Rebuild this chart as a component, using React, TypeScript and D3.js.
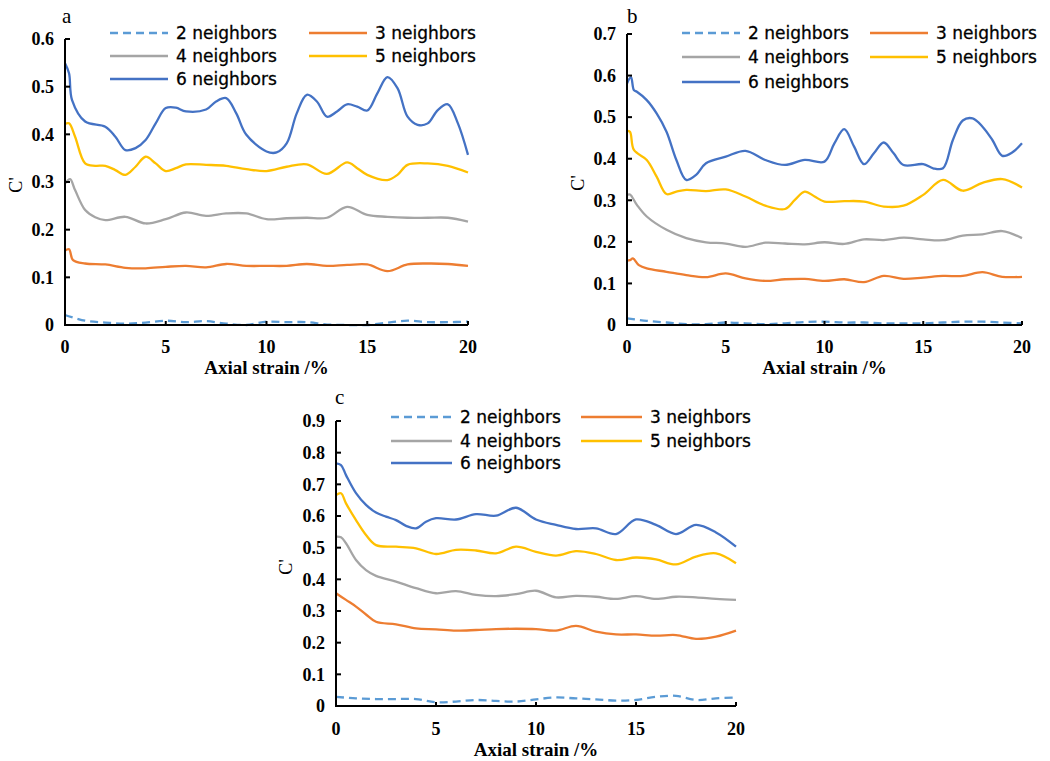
import React from "react";
import * as d3 from "d3";

type Pt = [number, number];

// Series shared by all three panels
const SERIES_NAMES = ["2 neighbors", "3 neighbors", "4 neighbors", "5 neighbors", "6 neighbors"];
const SERIES_COLORS = ["#5B9BD5", "#ED7D31", "#A5A5A5", "#FFC000", "#4472C4"];

const X_TICKS = [0, 5, 10, 15, 20];
const X_TITLE = "Axial strain /%";
const Y_TITLE = "C'";

const A_Y_TICKS = [0, 0.1, 0.2, 0.3, 0.4, 0.5, 0.6];
const B_Y_TICKS = [0, 0.1, 0.2, 0.3, 0.4, 0.5, 0.6, 0.7];
const C_Y_TICKS = [0, 0.1, 0.2, 0.3, 0.4, 0.5, 0.6, 0.7, 0.8, 0.9];

// Panel a: [axial strain %, C']
const a2: Pt[] = [[0, 0.021], [1, 0.009], [2, 0.005], [3, 0.003], [4, 0.005], [5, 0.009], [6, 0.006], [7, 0.008], [8, 0.003], [9, 0.0], [10, 0.007], [11, 0.006], [12, 0.006], [13, 0.001], [14, 0.0], [15, 0.0], [16, 0.005], [17, 0.009], [18, 0.006], [19, 0.006], [20, 0.007]];
const a3: Pt[] = [[0, 0.156], [0.2, 0.159], [0.4, 0.136], [1, 0.129], [2, 0.127], [3, 0.12], [4, 0.119], [5, 0.122], [6, 0.124], [7, 0.121], [8, 0.128], [9, 0.124], [10, 0.124], [11, 0.124], [12, 0.128], [13, 0.124], [14, 0.126], [15, 0.127], [16, 0.113], [17, 0.127], [18, 0.129], [19, 0.128], [20, 0.124]];
const a4: Pt[] = [[0, 0.297], [0.25, 0.306], [0.5, 0.283], [1, 0.241], [1.5, 0.226], [2, 0.22], [3, 0.227], [4, 0.213], [5, 0.222], [6, 0.236], [7, 0.229], [8, 0.234], [9, 0.234], [10, 0.222], [11, 0.224], [12, 0.225], [13, 0.225], [14, 0.248], [15, 0.231], [16, 0.227], [17, 0.225], [18, 0.225], [19, 0.225], [20, 0.217]];
const a5: Pt[] = [[0, 0.422], [0.2, 0.423], [0.5, 0.395], [1, 0.339], [1.5, 0.334], [2, 0.334], [2.5, 0.325], [3, 0.315], [3.5, 0.332], [4, 0.353], [4.5, 0.339], [5, 0.323], [5.5, 0.329], [6, 0.337], [7, 0.336], [8, 0.334], [9, 0.327], [10, 0.323], [11, 0.332], [12, 0.337], [13, 0.317], [14, 0.341], [14.5, 0.329], [15, 0.315], [16, 0.304], [16.5, 0.315], [17, 0.336], [18, 0.339], [19, 0.334], [20, 0.32]];
const a6: Pt[] = [[0, 0.549], [0.2, 0.528], [0.35, 0.472], [1, 0.427], [2, 0.416], [2.5, 0.395], [3, 0.367], [3.5, 0.371], [4, 0.388], [4.5, 0.423], [5, 0.455], [5.5, 0.456], [6, 0.448], [7, 0.452], [7.5, 0.469], [8, 0.476], [8.5, 0.444], [9, 0.399], [10, 0.364], [10.5, 0.362], [11, 0.381], [11.5, 0.444], [12, 0.483], [12.5, 0.469], [13, 0.437], [13.5, 0.448], [14, 0.463], [14.5, 0.458], [15, 0.45], [15.5, 0.486], [16, 0.52], [16.5, 0.497], [17, 0.437], [17.5, 0.42], [18, 0.423], [18.5, 0.451], [19, 0.463], [19.5, 0.423], [20, 0.357]];

// Panel b
const b2: Pt[] = [[0, 0.016], [1, 0.01], [2, 0.006], [3, 0.002], [4, 0.002], [5, 0.006], [6, 0.004], [7, 0.002], [8, 0.004], [9, 0.007], [10, 0.008], [11, 0.006], [12, 0.006], [13, 0.004], [14, 0.004], [15, 0.004], [16, 0.006], [17, 0.008], [18, 0.008], [19, 0.006], [20, 0.004]];
const b3: Pt[] = [[0, 0.155], [0.15, 0.156], [0.3, 0.16], [0.6, 0.144], [1, 0.136], [2, 0.128], [3, 0.12], [4, 0.115], [5, 0.124], [6, 0.112], [7, 0.106], [8, 0.11], [9, 0.111], [10, 0.106], [11, 0.11], [12, 0.103], [13, 0.118], [14, 0.111], [15, 0.114], [16, 0.118], [17, 0.118], [18, 0.127], [19, 0.116], [20, 0.116]];
const b4: Pt[] = [[0, 0.313], [0.15, 0.314], [0.5, 0.289], [1, 0.261], [2, 0.229], [3, 0.209], [4, 0.199], [5, 0.196], [6, 0.188], [7, 0.198], [8, 0.196], [9, 0.194], [10, 0.199], [11, 0.195], [12, 0.206], [13, 0.204], [14, 0.21], [15, 0.206], [16, 0.204], [17, 0.215], [18, 0.218], [19, 0.226], [20, 0.209]];
const b5: Pt[] = [[0, 0.467], [0.15, 0.465], [0.35, 0.421], [1, 0.397], [1.5, 0.357], [2, 0.315], [2.5, 0.321], [3, 0.325], [4, 0.322], [5, 0.326], [6, 0.309], [7, 0.287], [8, 0.279], [8.5, 0.301], [9, 0.321], [9.5, 0.309], [10, 0.297], [11, 0.298], [12, 0.297], [13, 0.285], [14, 0.287], [15, 0.313], [16, 0.349], [17, 0.323], [18, 0.342], [19, 0.351], [20, 0.331]];
const b6: Pt[] = [[0, 0.581], [0.2, 0.596], [0.35, 0.565], [0.5, 0.561], [1, 0.541], [1.5, 0.509], [2, 0.465], [2.5, 0.397], [3, 0.349], [3.5, 0.361], [4, 0.389], [5, 0.405], [6, 0.419], [7, 0.397], [8, 0.385], [9, 0.397], [10, 0.393], [10.5, 0.437], [11, 0.471], [11.5, 0.429], [12, 0.387], [12.5, 0.413], [13, 0.439], [13.5, 0.413], [14, 0.385], [15, 0.387], [15.5, 0.377], [16, 0.377], [16.5, 0.445], [17, 0.492], [17.5, 0.497], [18, 0.477], [18.5, 0.445], [19, 0.407], [19.5, 0.415], [20, 0.437]];

// Panel c
const c2: Pt[] = [[0, 0.029], [1, 0.024], [2, 0.022], [3, 0.022], [4, 0.022], [5, 0.012], [6, 0.014], [7, 0.019], [8, 0.016], [9, 0.014], [10, 0.021], [11, 0.027], [12, 0.024], [13, 0.021], [14, 0.017], [15, 0.019], [16, 0.029], [17, 0.032], [18, 0.019], [19, 0.024], [20, 0.027]];
const c3: Pt[] = [[0, 0.356], [0.5, 0.335], [1, 0.314], [1.5, 0.289], [2, 0.266], [3, 0.258], [4, 0.245], [5, 0.242], [6, 0.238], [7, 0.24], [8, 0.243], [9, 0.244], [10, 0.243], [11, 0.238], [12, 0.253], [13, 0.235], [14, 0.226], [15, 0.226], [16, 0.222], [17, 0.224], [18, 0.212], [19, 0.219], [20, 0.238]];
const c4: Pt[] = [[0, 0.535], [0.25, 0.533], [0.5, 0.514], [1, 0.461], [1.5, 0.429], [2, 0.411], [3, 0.393], [4, 0.372], [5, 0.356], [6, 0.363], [7, 0.351], [8, 0.347], [9, 0.353], [10, 0.364], [11, 0.343], [12, 0.348], [13, 0.345], [14, 0.338], [15, 0.347], [16, 0.338], [17, 0.345], [18, 0.343], [19, 0.338], [20, 0.335]];
const c5: Pt[] = [[0, 0.666], [0.25, 0.672], [0.5, 0.64], [1, 0.587], [1.5, 0.54], [2, 0.508], [3, 0.503], [4, 0.498], [5, 0.48], [6, 0.493], [7, 0.491], [8, 0.482], [9, 0.503], [10, 0.487], [11, 0.475], [12, 0.489], [13, 0.48], [14, 0.461], [15, 0.469], [16, 0.463], [17, 0.447], [18, 0.472], [19, 0.482], [20, 0.451]];
const c6: Pt[] = [[0, 0.766], [0.25, 0.761], [0.5, 0.729], [1, 0.672], [1.5, 0.635], [2, 0.611], [2.5, 0.598], [3, 0.587], [3.5, 0.569], [4, 0.561], [4.5, 0.582], [5, 0.593], [6, 0.589], [7, 0.606], [8, 0.601], [9, 0.626], [10, 0.589], [11, 0.572], [12, 0.559], [13, 0.561], [14, 0.543], [15, 0.589], [16, 0.572], [17, 0.543], [18, 0.572], [19, 0.548], [20, 0.503]];

interface PanelLayout {
  letter: string;
  letterX: number;
  letterY: number;
  left: number;
  right: number;
  top: number;
  bottom: number;
  yMax: number;
  yTicks: number[];
  legendCols: [number, number];
  legendLineLen: number;
  legendRows: [number, number, number];
  tickLabelY: number;
  titleY: number;
  yTitleX: number;
  yTitleY: number;
}

const PANELS: { layout: PanelLayout; series: Pt[][] }[] = [
  {
    layout: {
      letter: "a", letterX: 62, letterY: 23, left: 65, right: 468, top: 39, bottom: 325, yMax: 0.6, yTicks: A_Y_TICKS,
      legendCols: [110, 309], legendLineLen: 58, legendRows: [33, 56, 79],
      tickLabelY: 353, titleY: 374, yTitleX: 16, yTitleY: 185,
    },
    series: [a2, a3, a4, a5, a6],
  },
  {
    layout: {
      letter: "b", letterX: 627, letterY: 23, left: 627, right: 1022, top: 34, bottom: 325, yMax: 0.7, yTicks: B_Y_TICKS,
      legendCols: [682, 870], legendLineLen: 58, legendRows: [33, 57, 82],
      tickLabelY: 353, titleY: 374, yTitleX: 578, yTitleY: 183,
    },
    series: [b2, b3, b4, b5, b6],
  },
  {
    layout: {
      letter: "c", letterX: 335, letterY: 404, left: 336, right: 736, top: 421, bottom: 706, yMax: 0.9, yTicks: C_Y_TICKS,
      legendCols: [391, 581], legendLineLen: 61, legendRows: [417, 441, 463],
      tickLabelY: 735, titleY: 756, yTitleX: 286, yTitleY: 567,
    },
    series: [c2, c3, c4, c5, c6],
  },
];

const SERIF = "'Liberation Serif', 'Times New Roman', serif";
const SANS = "'DejaVu Sans', Verdana, sans-serif";

function Panel({ layout, series }: { layout: PanelLayout; series: Pt[][] }) {
  const x = d3.scaleLinear().domain([0, 20]).range([layout.left, layout.right]);
  const y = d3.scaleLinear().domain([0, layout.yMax]).range([layout.bottom, layout.top]);
  const line = d3
    .line<Pt>()
    .x((d) => x(d[0]))
    .y((d) => y(d[1]))
    .curve(d3.curveCatmullRom.alpha(0.5));
  const fmt = (v: number) => (v === 0 ? "0" : d3.format(".1f")(v));

  // legend slots: column, row
  const slots: [number, number][] = [[0, 0], [1, 0], [0, 1], [1, 1], [0, 2]];

  return (
    <g>
      <text x={layout.letterX} y={layout.letterY} fontFamily={SERIF} fontSize={21}>
        {layout.letter}
      </text>

      {series.map((pts, i) => (
        <path
          key={i}
          d={line(pts) ?? ""}
          fill="none"
          stroke={SERIES_COLORS[i]}
          strokeWidth={2.3}
          strokeDasharray={i === 0 ? "8,5" : undefined}
          strokeLinejoin="round"
        />
      ))}

      {/* axes */}
      <line x1={layout.left} x2={layout.left} y1={y(layout.yMax)} y2={y(0) + 1} stroke="#000" strokeWidth={2} />
      <line x1={layout.left - 1} x2={x(20)} y1={y(0)} y2={y(0)} stroke="#000" strokeWidth={2} />
      {layout.yTicks.map((t) => (
        <g key={"y" + t}>
          <line x1={layout.left} x2={layout.left + 5} y1={y(t)} y2={y(t)} stroke="#000" strokeWidth={2} />
          <text
            x={layout.left - 11}
            y={y(t)}
            dy="0.35em"
            textAnchor="end"
            fontFamily={SERIF}
            fontWeight="bold"
            fontSize={18}
          >
            {fmt(t)}
          </text>
        </g>
      ))}
      {X_TICKS.map((t) => (
        <g key={"x" + t}>
          <line x1={x(t)} x2={x(t)} y1={y(0)} y2={y(0) - 4} stroke="#000" strokeWidth={2} />
          <text x={x(t)} y={layout.tickLabelY} textAnchor="middle" fontFamily={SERIF} fontWeight="bold" fontSize={18}>
            {t}
          </text>
        </g>
      ))}
      <text
        x={(layout.left + layout.right) / 2}
        y={layout.titleY}
        textAnchor="middle"
        fontFamily={SERIF}
        fontWeight="bold"
        fontSize={19}
      >
        {X_TITLE}
      </text>
      <text
        transform={`translate(${layout.yTitleX},${layout.yTitleY}) rotate(-90)`}
        textAnchor="middle"
        dy="0.35em"
        fontFamily={SERIF}
        fontSize={18}
      >
        {Y_TITLE}
      </text>

      {/* legend */}
      {SERIES_NAMES.map((name, i) => {
        const [c, r] = slots[i];
        const lx = layout.legendCols[c];
        const ly = layout.legendRows[r];
        return (
          <g key={name}>
            <line
              x1={lx}
              x2={lx + layout.legendLineLen}
              y1={ly}
              y2={ly}
              stroke={SERIES_COLORS[i]}
              strokeWidth={2.3}
              strokeDasharray={i === 0 ? "8,5" : undefined}
            />
            <text
              x={lx + layout.legendLineLen + 8}
              y={ly}
              dy="0.36em"
              fontFamily={SANS}
              fontSize={17}
              fill="#000"
              stroke="#000"
              strokeWidth={0.3}
            >
              {name}
            </text>
          </g>
        );
      })}
    </g>
  );
}

export default function App() {
  return (
    <svg
      width={1050}
      height={761}
      viewBox="0 0 1050 761"
      style={{ position: "absolute", left: 0, top: 0, background: "#fff" }}
    >
      <rect x={0} y={0} width={1050} height={761} fill="#fff" />
      {PANELS.map((p) => (
        <Panel key={p.layout.letter} layout={p.layout} series={p.series} />
      ))}
    </svg>
  );
}
